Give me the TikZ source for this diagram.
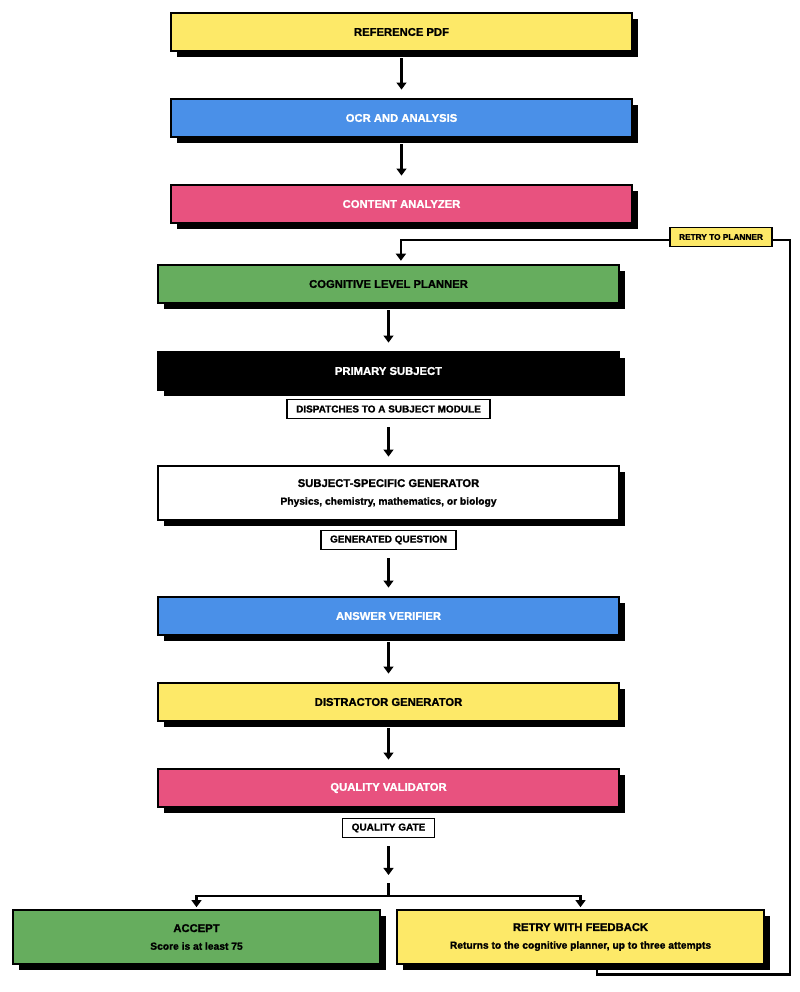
\documentclass[tikz,border=0pt]{standalone}
\usepackage{fontspec}
\setmainfont{Liberation Sans}[BoldFeatures={FakeBold=1.2}]
\usepackage{tikz}
\usetikzlibrary{arrows.meta,positioning,shadows}

\definecolor{padyellow}{RGB}{253,233,104}
\definecolor{padblue}{RGB}{74,144,232}
\definecolor{padpink}{RGB}{232,82,127}
\definecolor{padgreen}{RGB}{102,173,94}

\tikzset{
  stage/.style={draw=black,line width=2pt,minimum width=11.525cm,minimum height=0.95cm,
    inner sep=0pt,align=center,font=\bfseries\fontsize{8}{12.6}\selectfont,
    drop shadow={shadow xshift=0.15cm,shadow yshift=-0.15cm,fill=black,opacity=1}},
  outcome/.style={stage,minimum width=9.175cm,minimum height=1.35cm},
  tag/.style={draw=black,fill=white,line width=1.2pt,minimum height=0.475cm,inner xsep=6.5pt,
    inner ysep=0pt,font=\bfseries\fontsize{7.1}{8}\selectfont},
  flow/.style={line width=2pt,-{Triangle[width=7pt,length=5pt]}},
}

\newcommand{\subline}[1]{{\fontsize{7.3}{8}\selectfont #1}}

\begin{document}
\begin{tikzpicture}[x=0.025cm,y=-0.025cm]
\useasboundingbox (0,0) rectangle (800,992);

% pipeline
\node[stage,fill=padyellow] (refpdf) at (401.5,32) {REFERENCE PDF};
\node[stage,fill=padblue,text=white] (ocr) at (401.5,118) {OCR AND ANALYSIS};
\node[stage,fill=padpink,text=white] (content) at (401.5,204) {CONTENT ANALYZER};
\node[stage,fill=padgreen] (planner) at (388.5,284) {COGNITIVE LEVEL PLANNER};
\node[stage,fill=black,text=white] (subject) at (388.5,371) {PRIMARY SUBJECT};
\node[tag] (dispatch) at (388.5,409) {DISPATCHES TO A SUBJECT MODULE};
\node[stage,fill=white,minimum height=1.35cm] (generator) at (388.5,493)
  {SUBJECT-SPECIFIC GENERATOR\\\subline{Physics, chemistry, mathematics, or biology}};
\node[tag] (generated) at (388.5,540) {GENERATED QUESTION};
\node[stage,fill=padblue,text=white] (verifier) at (388.5,616) {ANSWER VERIFIER};
\node[stage,fill=padyellow] (distractor) at (388.5,702) {DISTRACTOR GENERATOR};
\node[stage,fill=padpink,text=white] (validator) at (388.5,788) {QUALITY VALIDATOR};
\node[tag] (gate) at (388.5,828) {QUALITY GATE};

% outcomes
\node[outcome,fill=padgreen] (accept) at (196.5,937) {ACCEPT\\\subline{Score is at least 75}};
\node[outcome,fill=padyellow] (retry) at (580.5,937)
  {RETRY WITH FEEDBACK\\\subline{Returns to the cognitive planner, up to three attempts}};

\draw[flow,shorten <=0.15cm,shorten >=0.2cm] (refpdf) -- (ocr);
\draw[flow,shorten <=0.15cm,shorten >=0.2cm] (ocr) -- (content);
\draw[flow,shorten <=0.15cm,shorten >=0.2cm] (planner) -- (subject);
\draw[flow,shorten <=0.2cm,shorten >=0.2cm] (dispatch) -- (generator);
\draw[flow,shorten <=0.2cm,shorten >=0.2cm] (generated) -- (verifier);
\draw[flow,shorten <=0.15cm,shorten >=0.2cm] (verifier) -- (distractor);
\draw[flow,shorten <=0.15cm,shorten >=0.2cm] (distractor) -- (validator);

\coordinate (gateend) at (388.5,875);
\coordinate (fork) at (388.5,883);
\coordinate (split) at (388.5,896);
\draw[flow,shorten <=0.2cm] (gate) -- (gateend);
\draw[line width=2pt] (fork) -- (split);
\draw[flow,shorten >=1pt] (split) -| (accept);
\draw[flow,shorten >=1pt] (split) -| (retry);

% loop back
\coordinate (backtop) at (790,240);
\draw[flow,shorten >=2pt] ([xshift=0.41cm]retry.south) -- ++(0,9) -| (backtop)
  -| ([xshift=0.31cm]planner.north);
\node[tag,fill=padyellow,minimum width=2.5cm,font=\bfseries\fontsize{5.9}{7}\selectfont]
  (retrytag) at (721,237) {RETRY TO PLANNER};
\end{tikzpicture}
\end{document}
